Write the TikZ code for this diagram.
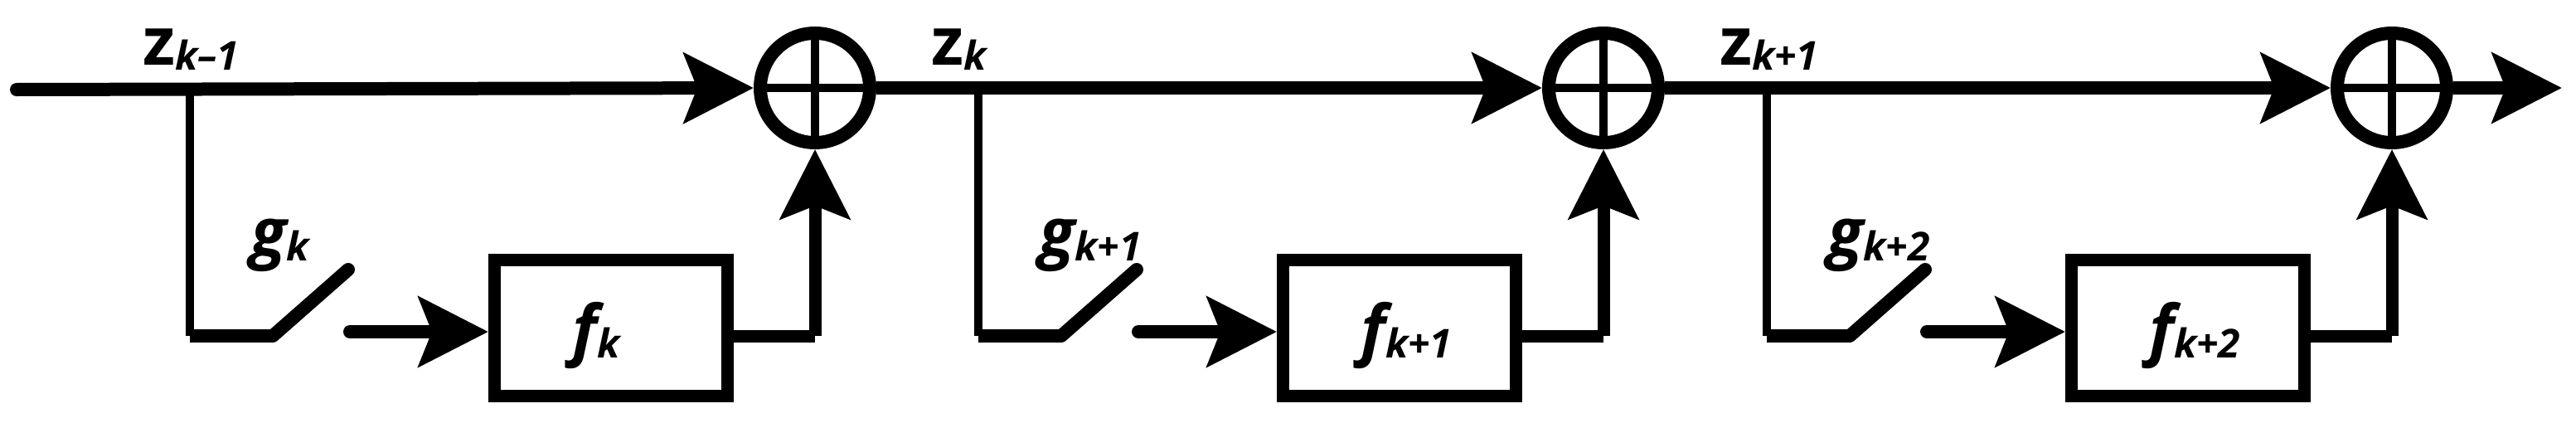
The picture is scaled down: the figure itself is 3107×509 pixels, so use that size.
\documentclass[tikz,border=0pt]{standalone}
\usepackage{fontspec}
\setmainfont{Open Sans}
\usetikzlibrary{arrows.meta}
\newcommand{\zsub}[1]{\raisebox{-6pt}{\fontsize{48}{48}\selectfont\bfseries\itshape #1}}
\tikzset{
  thick line/.style={line width=16pt},
  thin line/.style={line width=10pt},
  arr/.style={-{Stealth[length=84pt,width=84pt,inset=16pt]}},
  lbl/.style={inner sep=0pt,anchor=base west,font=\fontsize{80}{80}\selectfont\bfseries},
  blk/.style={draw,line width=15pt,minimum width=281pt,minimum height=164pt,inner sep=0pt},
  sum/.style={draw,circle,line width=16pt,minimum size=132pt,inner sep=0pt}
}
\begin{document}
\begin{tikzpicture}[x=1pt,y=-1pt]
\useasboundingbox (0,0) rectangle (3107,509);
\coordinate (start) at (20,108);
\foreach \i/\za/\gb in {0/k\textendash1/k,1/k/k+1,2/k+1/k+2}{
  \begin{scope}[xshift=951*\i pt]
    \node[sum] (s\i) at (983,106) {};
    \draw[line width=10pt] (s\i.north) -- (s\i.south) (s\i.west) -- (s\i.east);
    \node[blk] (f\i) at (737,395) {};
    \node[lbl] (fl\i) at (690,425) {\itshape f\zsub{\gb}};
    \coordinate (br\i) at (229,108);
    \coordinate (bc\i) at (229,405);
    \coordinate (sw\i) at (329,405);
    \coordinate (st\i) at (420,325);
    \coordinate (in\i) at (422,400);
    \coordinate (oc\i) at (983,405);
    \draw[thin line] (br\i) -- (bc\i);
    \draw[thick line] (bc\i) -- (sw\i);
    \draw[thick line,line cap=round] (sw\i) -- (st\i);
    \draw[thick line,line cap=round,arr] (in\i) -- (f\i.west |- in\i);
    \draw[line width=15pt] (f\i.east |- oc\i) -- (oc\i);
    \draw[line width=15pt,arr] (oc\i) -- (s\i.south);
    \node[lbl] (zl\i) at (172,78) {z\zsub{\za}};
    \node[lbl,font=\fontsize{80}{80}\selectfont\bfseries\itshape] (gl\i) at (302,308) {g\zsub{\gb}};
  \end{scope}
}
\draw[thick line,line cap=round,arr] (start) -- (s0.west);
\draw[thick line,arr] (s0.east) -- (s1.west);
\draw[thick line,arr] (s1.east) -- (s2.west);
\coordinate (out) at (3090,106);
\draw[thick line,arr] (s2.east) -- (out);
\end{tikzpicture}
\end{document}
